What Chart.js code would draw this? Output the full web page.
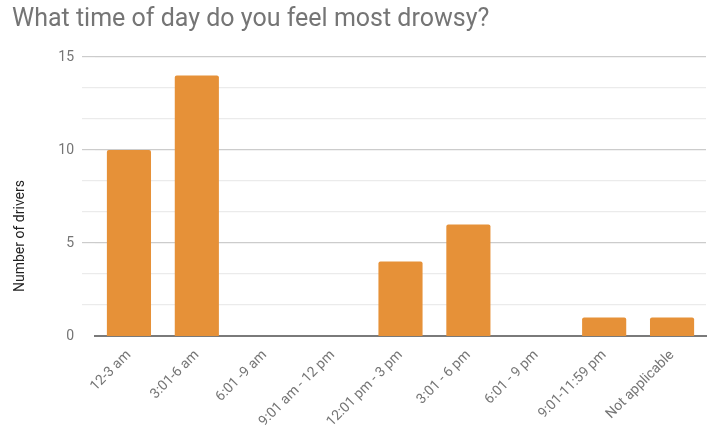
<!DOCTYPE html>
<html>
<head>
<meta charset="utf-8">
<script src="https://cdn.jsdelivr.net/npm/chart.js@4/dist/chart.umd.min.js"></script>
<style>
  html, body { margin: 0; padding: 0; background: #fff; }
  #wrap { width: 708px; height: 433px; position: relative; }
</style>
</head>
<body>
<div id="wrap"><canvas id="c" width="708" height="433"></canvas></div>
<script>
// Survey answers: time ranges and how many drivers picked each
const categories = ["12-3 am", "3:01-6 am", "6:01 -9 am", "9:01 am - 12 pm", "12:01 pm - 3 pm",
                    "3:01 - 6 pm", "6:01 - 9 pm", "9:01-11:59 pm", "Not applicable"];
const drivers = [10, 14, 0, 0, 4, 6, 0, 1, 1];
const yTickLabels = [0, 5, 10, 15];
const minorPerMajor = 6;

const chartTitle = "What time of day do you feel most drowsy?";
const yTitle = "Number of drivers";

// Gridline values: labelled majors with five minor lines between each pair
const gridValues = [];
for (let i = 0; i < yTickLabels.length - 1; i++) {
  for (let k = 0; k < minorPerMajor; k++) {
    gridValues.push(yTickLabels[i] + (yTickLabels[i + 1] - yTickLabels[i]) * k / minorPerMajor);
  }
}
gridValues.push(yTickLabels[yTickLabels.length - 1]);
const isMajor = v => yTickLabels.some(t => Math.abs(t - v) < 1e-6);

// Vertical axis caption, drawn left of the tick labels
const yTitlePlugin = {
  id: 'yTitle',
  afterDraw(chart) {
    const ctx = chart.ctx;
    const a = chart.chartArea;
    ctx.save();
    ctx.translate(20, (a.top + chart.height) / 2 - 9);
    ctx.rotate(-Math.PI / 2);
    ctx.font = '14px Roboto';
    ctx.fillStyle = '#222222';
    ctx.textAlign = 'center';
    ctx.textBaseline = 'middle';
    ctx.fillText(yTitle, 0, 0);
    ctx.restore();
  }
};

new Chart(document.getElementById('c'), {
  type: 'bar',
  data: {
    labels: categories,
    datasets: [{
      data: drivers,
      backgroundColor: '#e69138',
      borderWidth: 0,
      borderRadius: 2,
      borderSkipped: 'bottom',
      categoryPercentage: 1,
      barPercentage: 0.65
    }]
  },
  options: {
    responsive: false,
    animation: false,
    devicePixelRatio: 1,
    layout: { padding: { left: 12, right: 2, top: 0, bottom: 0 } },
    plugins: {
      legend: { display: false },
      tooltip: { enabled: false },
      title: {
        display: true,
        text: chartTitle,
        align: 'start',
        color: '#757575',
        font: { family: 'Roboto', size: 25, weight: 'normal' },
        padding: { top: 5, bottom: 22 }
      }
    },
    scales: {
      x: {
        grid: { display: false, drawTicks: false },
        border: { display: true, color: '#7a7a7a', width: 2 },
        afterFit(axis) {
          axis.height = 97;
        },
        ticks: {
          color: '#757575',
          font: { family: 'Roboto', size: 14 },
          minRotation: 45,
          maxRotation: 45,
          autoSkip: false,
          padding: 11
        }
      },
      y: {
        min: 0,
        max: 15,
        afterBuildTicks(axis) {
          axis.ticks = gridValues.map(v => ({ value: v }));
        },
        afterFit(axis) {
          axis.width = 83;
        },
        border: { display: false },
        grid: {
          color: ctx => isMajor(ctx.tick.value) ? '#cccccc' : '#ebebeb',
          lineWidth: ctx => ctx.tick.value === 0 ? 0 : 1.2,
          drawTicks: true,
          tickLength: 13
        },
        ticks: {
          color: '#757575',
          font: { family: 'Roboto', size: 14 },
          padding: 8,
          callback: v => isMajor(v) ? String(Math.round(v)) : ''
        }
      }
    }
  },
  plugins: [yTitlePlugin]
});
</script>
</body>
</html>
